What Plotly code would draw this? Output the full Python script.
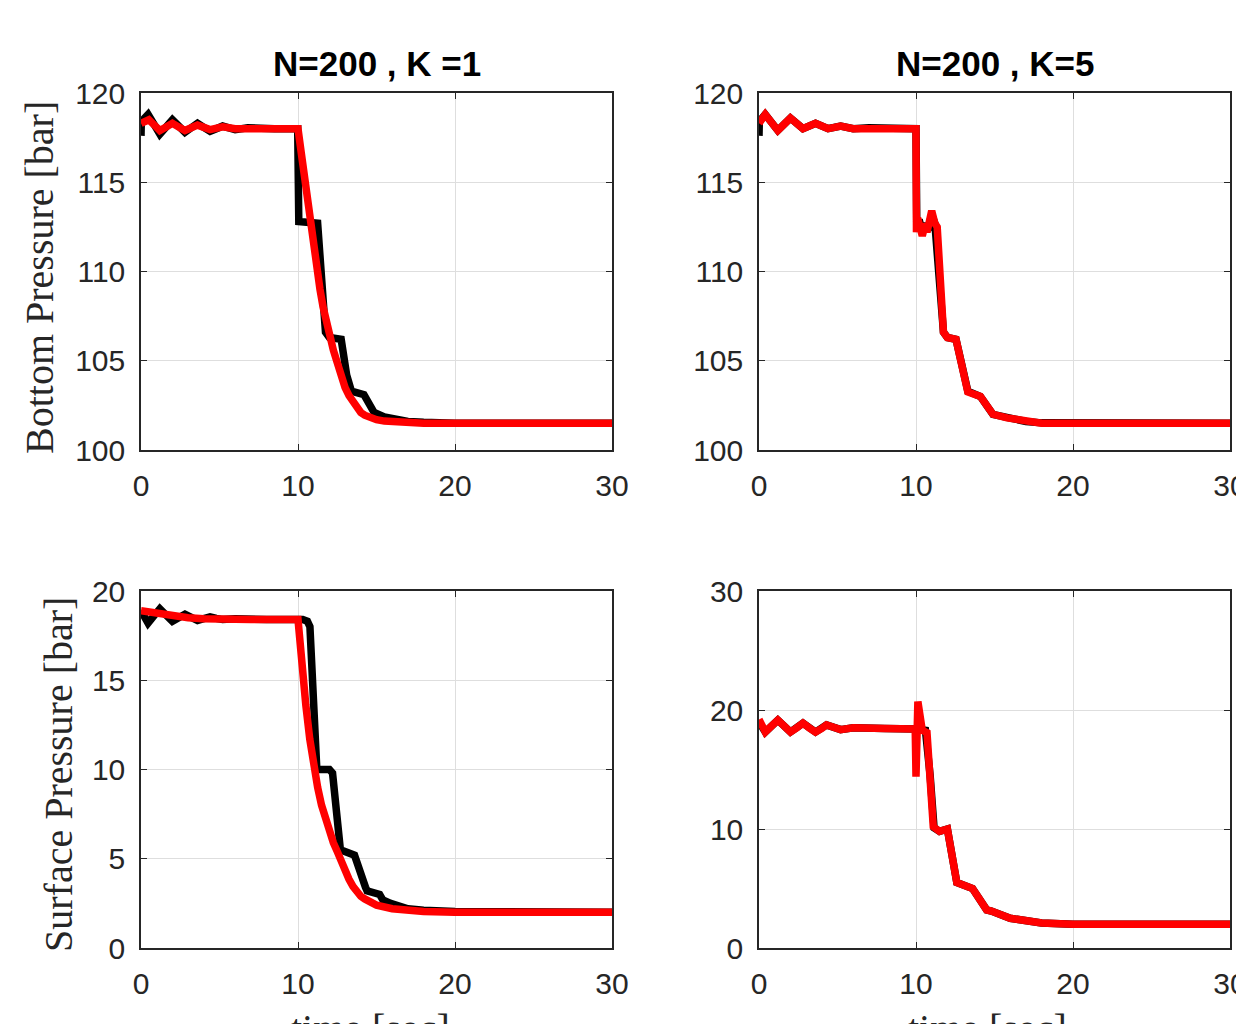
import plotly.graph_objects as go

# ---------------- data ----------------
# Top-left: N=200, K=1, bottom pressure [bar]
t_tl_black = [0, 0.02, 0.45, 0.82, 1.2, 1.6, 2.0, 2.4, 2.8, 3.2, 3.6, 4.0, 4.4, 4.8, 5.2, 5.6, 6.0, 6.8, 7.6, 8.5,
              9.98, 10.05, 11.25, 11.5, 11.75, 12.0, 12.75, 13.1, 13.4, 14.2, 14.5, 14.85, 15.5, 16.0, 17.0, 18.0,
              20.0, 30.0]
p_tl_black = [117.6, 118.4, 118.8, 118.25, 117.7, 118.1, 118.5, 118.15, 117.8, 118.05, 118.3, 118.07, 117.85, 118.0,
              118.15, 118.05, 117.95, 118.05, 118.0, 118.0, 118.0, 112.8, 112.7, 109.5, 106.6, 106.3, 106.2, 104.2,
              103.3, 103.1, 102.6, 102.1, 101.85, 101.75, 101.6, 101.55, 101.5, 101.5]
t_tl_red = [0, 0.5, 0.85, 1.2, 1.6, 2.0, 2.4, 2.8, 3.2, 3.6, 4.4, 5.2, 6.0, 7.0, 8.0, 10.0, 10.2, 10.4, 10.6, 10.8,
            11.0, 11.2, 11.4, 11.6, 11.8, 12.0, 12.25, 12.5, 12.75, 13.0, 13.25, 13.5, 13.75, 14.0, 14.25, 14.5,
            15.0, 15.5, 16.0, 17.0, 18.0, 20.0, 30.0]
p_tl_red = [118.3, 118.5, 118.2, 117.9, 118.1, 118.3, 118.1, 117.9, 118.05, 118.2, 117.95, 118.1, 118.0, 118.0,
            118.0, 118.0, 116.7, 115.3, 114.0, 112.6, 111.3, 110.0, 109.0, 108.0, 107.2, 106.4, 105.6, 104.9, 104.15,
            103.5, 103.05, 102.7, 102.35, 102.1, 101.95, 101.85, 101.7, 101.62, 101.58, 101.52, 101.5, 101.5, 101.5]

# Top-right: N=200, K=5, bottom pressure [bar]
t_tr_black = [0, 0.02, 0.4, 1.2, 2.0, 2.8, 3.6, 4.4, 5.2, 6.0, 7.0, 8.0, 10.0, 10.05, 10.2, 10.4, 10.6, 10.75, 11.0,
              11.2, 11.75, 12.0, 12.55, 13.3, 14.1, 14.9, 15.8, 17.0, 18.0, 20.0, 30.0]
p_tr_black = [117.6, 118.4, 118.8, 117.9, 118.6, 118.0, 118.3, 118.0, 118.15, 118.0, 118.05, 118.0, 118.0, 112.4,
              112.9, 112.2, 112.7, 112.3, 113.2, 112.7, 106.6, 106.3, 106.2, 103.3, 103.0, 102.0, 101.8, 101.6,
              101.52, 101.5, 101.5]
t_tr_red = [0, 0.4, 0.8, 1.2, 1.6, 2.0, 2.4, 2.8, 3.2, 3.6, 4.0, 4.4, 4.8, 5.2, 6.0, 7.0, 8.0, 10.0, 10.03, 10.1,
            10.4, 10.6, 10.7, 11.0, 11.2, 11.35, 11.75, 12.0, 12.55, 13.3, 14.1, 14.9, 15.8, 17.4, 18.0, 20.0, 30.0]
p_tr_red = [118.3, 118.8, 118.35, 117.9, 118.25, 118.6, 118.3, 118.0, 118.15, 118.3, 118.15, 118.0, 118.07, 118.15,
            118.0, 118.05, 118.0, 118.0, 112.2, 113.0, 112.0, 112.7, 112.2, 113.4, 112.7, 112.5, 106.6, 106.3,
            106.2, 103.25, 103.0, 102.0, 101.8, 101.55, 101.5, 101.5, 101.5]

# Bottom-left: N=200, K=1, surface pressure [bar]
t_bl_black = [0, 0.45, 0.82, 1.2, 1.6, 2.0, 2.4, 2.8, 3.2, 3.6, 4.0, 4.4, 4.8, 5.2, 6.0, 7.0, 8.0, 10.3, 10.6, 10.76,
              11.2, 12.0, 12.2, 12.7, 13.5, 13.6, 14.3, 14.4, 15.2, 15.4, 15.9, 17.0, 18.0, 20.0, 30.0]
p_bl_black = [18.9, 18.2, 18.6, 19.0, 18.65, 18.3, 18.5, 18.7, 18.52, 18.35, 18.45, 18.55, 18.47, 18.4, 18.45, 18.4,
              18.4, 18.4, 18.3, 18.0, 10.0, 10.0, 9.8, 5.5, 5.3, 5.2, 3.4, 3.2, 3.0, 2.7, 2.5, 2.2, 2.12, 2.05, 2.0]
t_bl_red = [0, 1.0, 2.0, 3.0, 4.0, 5.0, 7.0, 10.0, 10.2, 10.35, 10.5, 10.75, 11.0, 11.25, 11.5, 11.75, 12.0, 12.25,
            12.5, 12.75, 13.0, 13.25, 13.5, 13.75, 14.0, 14.25, 14.5, 15.0, 16.0, 17.0, 18.0, 20.0, 30.0]
p_bl_red = [18.9, 18.75, 18.6, 18.5, 18.45, 18.42, 18.4, 18.4, 16.2, 14.8, 13.6, 11.7, 10.1, 9.0, 8.0, 7.2, 6.5, 5.9,
            5.4, 4.8, 4.3, 3.85, 3.45, 3.15, 2.9, 2.75, 2.6, 2.4, 2.2, 2.1, 2.05, 2.0, 2.0]

# Bottom-right: N=200, K=5, surface pressure [bar]
t_br_black = [0, 0.4, 1.2, 2.0, 2.8, 3.6, 4.3, 5.2, 6.0, 7.0, 8.0, 10.0, 10.6, 10.9, 11.15, 11.5, 12.0, 12.6, 13.4,
              13.6, 14.5, 14.8, 16.0, 17.0, 18.0, 20.0, 30.0]
p_br_black = [19.0, 18.15, 19.15, 18.15, 18.9, 18.15, 18.75, 18.35, 18.5, 18.4, 18.45, 18.4, 18.3, 14.5, 10.1, 9.8,
              10.0, 5.5, 5.2, 5.0, 3.2, 3.1, 2.5, 2.25, 2.1, 2.0, 2.0]
t_br_red = [0, 0.4, 0.8, 1.2, 1.6, 2.0, 2.4, 2.8, 3.2, 3.6, 4.0, 4.3, 4.75, 5.2, 6.0, 7.0, 8.0, 9.95, 10.0, 10.12,
            10.25, 10.4, 10.7, 10.9, 11.1, 11.5, 12.0, 12.6, 13.4, 13.6, 14.5, 14.8, 16.0, 17.0, 18.0, 20.0, 30.0]
p_br_red = [19.2, 18.15, 18.65, 19.15, 18.65, 18.15, 18.5, 18.9, 18.5, 18.15, 18.45, 18.75, 18.55, 18.35, 18.5,
            18.4, 18.45, 18.4, 14.4, 20.7, 19.5, 18.3, 18.1, 14.1, 10.2, 9.8, 10.0, 5.5, 5.2, 5.0, 3.2, 3.1, 2.5,
            2.25, 2.1, 2.0, 2.0]

x_ticks = [0, 10, 20, 30]
y_ticks_top = [100, 105, 110, 115, 120]
y_ticks_bl = [0, 5, 10, 15, 20]
y_ticks_br = [0, 10, 20, 30]

titles = ["N=200 , K =1", "N=200 , K=5"]
ylabel_top = "Bottom Pressure [bar]"
ylabel_bottom = "Surface Pressure [bar]"
xlabel = "time [sec]"

# ---------------- figure ----------------
W, H = 1244, 1024
OFF = 8  # default page margin around the figure
LW = 7.5

fig = go.Figure()

panels = [
    ("x", "y", t_tl_black, p_tl_black, t_tl_red, p_tl_red),
    ("x2", "y2", t_tr_black, p_tr_black, t_tr_red, p_tr_red),
    ("x3", "y3", t_bl_black, p_bl_black, t_bl_red, p_bl_red),
    ("x4", "y4", t_br_black, p_br_black, t_br_red, p_br_red),
]
for xa, ya, tb, pb, tr, pr in panels:
    fig.add_trace(go.Scatter(x=tb, y=pb, mode="lines", xaxis=xa, yaxis=ya,
                             line=dict(color="#000000", width=LW), showlegend=False))
    fig.add_trace(go.Scatter(x=tr, y=pr, mode="lines", xaxis=xa, yaxis=ya,
                             line=dict(color="#ff0000", width=LW), showlegend=False))

# layout positions in page pixels
left_col = (141, 612)
right_col = (759, 1230)
top_row = (93, 450)
bot_row = (591, 948)


def px(x):
    return (x - OFF) / W


def py(y):
    return 1 - (y - OFF) / H


def xdom(c):
    return [px(c[0]), px(c[1])]


def ydom(r):
    return [py(r[1]), py(r[0])]


tickfont = dict(family="Liberation Sans, Arial, sans-serif", size=30, color="#262626")
common = dict(showline=True, linecolor="#262626", linewidth=1.5, mirror="ticks", ticks="inside",
              ticklen=6, tickwidth=1, tickcolor="#262626", showgrid=True, gridcolor="#dedede",
              gridwidth=1, zeroline=False, tickfont=tickfont, automargin=False)

fig.update_layout(
    width=W, height=H,
    margin=dict(l=0, r=0, t=0, b=0, pad=0),
    paper_bgcolor="white", plot_bgcolor="white",
    showlegend=False,
    xaxis=dict(domain=xdom(left_col), anchor="y", range=[0, 30], tickvals=x_ticks,
               ticklabelstandoff=8, **common),
    yaxis=dict(domain=ydom(top_row), anchor="x", range=[100, 120], tickvals=y_ticks_top,
               ticklabelstandoff=8, **common),
    xaxis2=dict(domain=xdom(right_col), anchor="y2", range=[0, 30], tickvals=x_ticks,
                ticklabelstandoff=8, **common),
    yaxis2=dict(domain=ydom(top_row), anchor="x2", range=[100, 120], tickvals=y_ticks_top,
                ticklabelstandoff=8, **common),
    xaxis3=dict(domain=xdom(left_col), anchor="y3", range=[0, 30], tickvals=x_ticks,
                ticklabelstandoff=8, **common),
    yaxis3=dict(domain=ydom(bot_row), anchor="x3", range=[0, 20], tickvals=y_ticks_bl,
                ticklabelstandoff=8, **common),
    xaxis4=dict(domain=xdom(right_col), anchor="y4", range=[0, 30], tickvals=x_ticks,
                ticklabelstandoff=8, **common),
    yaxis4=dict(domain=ydom(bot_row), anchor="x4", range=[0, 30], tickvals=y_ticks_br,
                ticklabelstandoff=8, **common),
)

title_font = dict(family="Liberation Sans, Arial, sans-serif", size=35, color="#000000")
serif = dict(family="Liberation Serif, Times New Roman, serif", size=40, color="#262626")

annotations = [
    dict(text="<b>%s</b>" % titles[0], x=px((left_col[0] + left_col[1]) / 2), y=py(63),
         xref="paper", yref="paper", xanchor="center", yanchor="middle", showarrow=False, font=title_font),
    dict(text="<b>%s</b>" % titles[1], x=px((right_col[0] + right_col[1]) / 2), y=py(63),
         xref="paper", yref="paper", xanchor="center", yanchor="middle", showarrow=False, font=title_font),
    dict(text=ylabel_top, x=px(39), y=py(278), xref="paper", yref="paper", textangle=-90,
         xanchor="center", yanchor="middle", showarrow=False, font=serif),
    dict(text=ylabel_bottom, x=px(58), y=py(775), xref="paper", yref="paper", textangle=-90,
         xanchor="center", yanchor="middle", showarrow=False, font=serif),
    dict(text=xlabel, x=px(370), y=py(1004), xref="paper", yref="paper",
         xanchor="center", yanchor="top", showarrow=False, font=serif),
    dict(text=xlabel, x=px(987), y=py(1004), xref="paper", yref="paper",
         xanchor="center", yanchor="top", showarrow=False, font=serif),
]
fig.update_layout(annotations=annotations)

fig.write_html("out.html")
